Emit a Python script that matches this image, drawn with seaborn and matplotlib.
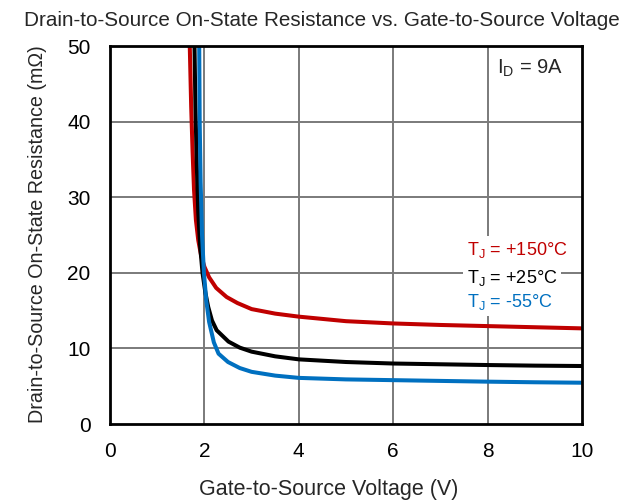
import matplotlib
matplotlib.use("Agg")
import matplotlib.pyplot as plt
import seaborn as sns
import pandas as pd

# Gate-to-source voltage (V) and on-state resistance (mOhm) per junction temperature
vgs_150 = [1.69, 1.72, 1.75, 1.78, 1.82, 1.87, 1.93, 2.0, 2.1, 2.25, 2.47, 2.7, 3.0, 3.5, 4.0, 5.0, 6.0, 7.0, 8.0, 9.0, 10.0]
rds_150 = [50.0, 42.0, 36.0, 31.0, 27.0, 24.3, 22.3, 20.8, 19.4, 18.0, 16.8, 16.0, 15.2, 14.6, 14.2, 13.6, 13.3, 13.1, 12.95, 12.8, 12.65]

vgs_25 = [1.79, 1.81, 1.84, 1.87, 1.91, 1.96, 2.02, 2.08, 2.16, 2.26, 2.51, 2.75, 3.0, 3.5, 4.0, 5.0, 6.0, 7.0, 8.0, 9.0, 10.0]
rds_25 = [50.0, 42.0, 34.0, 28.0, 23.5, 20.0, 17.4, 15.5, 13.7, 12.4, 10.9, 10.1, 9.57, 8.95, 8.55, 8.2, 8.0, 7.9, 7.8, 7.72, 7.67]

vgs_m55 = [1.89, 1.90, 1.92, 1.95, 1.99, 2.04, 2.1, 2.2, 2.3, 2.5, 2.75, 3.0, 3.5, 4.0, 5.0, 6.0, 7.0, 8.0, 9.0, 10.0]
rds_m55 = [50.0, 40.0, 32.0, 25.0, 20.0, 16.3, 13.5, 10.8, 9.3, 8.2, 7.4, 6.9, 6.4, 6.1, 5.9, 5.8, 5.7, 5.6, 5.52, 5.46]

series_labels = ["+150", "+25", "-55"]
series_colors = ["#c00000", "#000000", "#0070c0"]

x_ticks = [0, 2, 4, 6, 8, 10]
y_ticks = [0, 10, 20, 30, 40, 50]

frames = []
for lab, xs, ys in zip(series_labels, [vgs_150, vgs_25, vgs_m55], [rds_150, rds_25, rds_m55]):
    frames.append(pd.DataFrame({"Vgs": xs, "Rds": ys, "Tj": lab}))
df = pd.concat(frames, ignore_index=True)

sns.set_theme(style="white")
plt.rcParams["font.family"] = ["Liberation Sans", "DejaVu Sans"]
plt.rcParams["mathtext.fontset"] = "custom"
plt.rcParams["mathtext.rm"] = "Liberation Sans"

fig = plt.figure(figsize=(6.26, 5.04), dpi=100)
ax = fig.add_axes([110 / 626, 1 - 424 / 504, 472 / 626, 378 / 504])

for xv in x_ticks[1:-1]:
    ax.axvline(xv, color="#7a7a7a", lw=1.4, zorder=0)
for yv in y_ticks[1:-1]:
    ax.axhline(yv, color="#7a7a7a", lw=1.4, zorder=0)

sns.lineplot(data=df, x="Vgs", y="Rds", hue="Tj", hue_order=series_labels,
             palette=series_colors, sort=False, estimator=None, units="Tj",
             lw=2.9, legend=False, ax=ax, zorder=3)

ax.set_xlim(0, 10)
ax.set_ylim(0, 50)
ax.set_xticks(x_ticks)
ax.set_yticks(y_ticks)
ax.tick_params(axis="y", length=0, labelsize=15, colors="black", pad=14)
ax.tick_params(axis="x", length=0, labelsize=15, colors="black", pad=13)
for s in ax.spines.values():
    s.set_color("black")
    s.set_linewidth(2)
    s.set_zorder(5)

ax.set_xlabel("Gate-to-Source Voltage (V)", fontsize=15.5, va="center")
ax.xaxis.set_label_coords(0.464, -0.172)
ax.set_ylabel("Drain-to-Source On-State Resistance (mΩ)", fontsize=14.2, va="center")
ax.yaxis.set_label_coords(-0.153, 0.503)
fig.text(322 / 626, 1 - 20 / 504, "Drain-to-Source On-State Resistance vs. Gate-to-Source Voltage",
         ha="center", va="center", fontsize=14.9)

ax.text(9.6, 47.1, r"I$_\mathregular{D}$ = 9A", ha="right", va="center", fontsize=14.5)

label_y = [23.0, 19.35, 16.2]
for lab, col, yy in zip(series_labels, series_colors, label_y):
    ax.text(7.56, yy, r"T$_\mathregular{J}$ = " + lab + "°C", ha="left", va="center",
            fontsize=13, color=col, zorder=4,
            bbox=dict(facecolor="white", edgecolor="none", pad=3))

fig.savefig("out.png", dpi=100)
